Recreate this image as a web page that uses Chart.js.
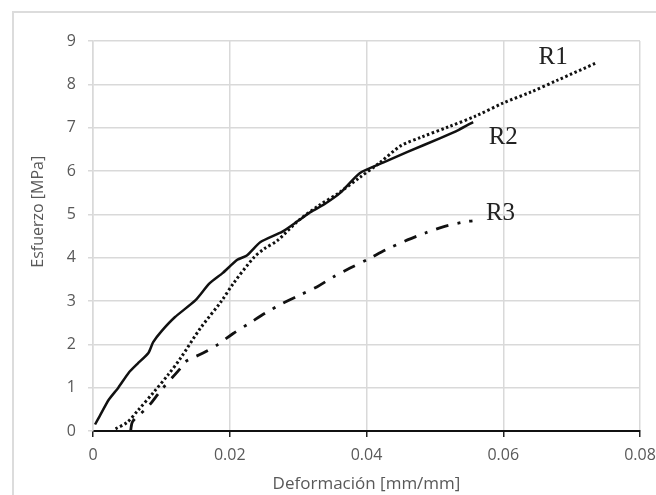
<!DOCTYPE html>
<html>
<head>
<meta charset="utf-8">
<script src="https://cdn.jsdelivr.net/npm/chart.js@4.4.1/dist/chart.umd.min.js"></script>
<style>
  html, body { margin: 0; padding: 0; background: #fff; }
  #wrap { position: relative; width: 656px; height: 495px; overflow: hidden; }
  #frame { position: absolute; left: 12px; top: 11px; right: -10px; bottom: -10px;
           border-top: 2px solid #dcdcdc; border-left: 2px solid #dcdcdc; }
  #chart { position: absolute; left: 0; top: 0; }
</style>
</head>
<body>
<div id="wrap">
  <div id="frame"></div>
  <canvas id="chart" width="656" height="495"></canvas>
</div>
<script>
// R1 - punteada
const r1X = [0.0033, 0.005, 0.0066, 0.0089, 0.011, 0.0128, 0.0157, 0.0188, 0.0205, 0.0235, 0.025, 0.027,
  0.030, 0.033, 0.036, 0.039, 0.042, 0.045, 0.048, 0.052, 0.056, 0.060, 0.064, 0.068, 0.0737];
const r1Y = [0.05, 0.2, 0.48, 0.9, 1.3, 1.68, 2.37, 3.0, 3.4, 4.0, 4.2, 4.4,
  4.85, 5.2, 5.5, 5.85, 6.2, 6.58, 6.78, 7.02, 7.27, 7.57, 7.82, 8.1, 8.5];

// R2 - continua
const r2X = [0.0003, 0.001, 0.0023, 0.0037, 0.0052, 0.0065, 0.0081, 0.0088, 0.010, 0.012, 0.015, 0.017,
  0.019, 0.0211, 0.0225, 0.0245, 0.0277, 0.030, 0.0318, 0.034, 0.0362, 0.039, 0.0425, 0.046,
  0.0508, 0.0535, 0.0556];
const r2Y = [0.15, 0.35, 0.72, 1.0, 1.34, 1.55, 1.8, 2.05, 2.3, 2.63, 3.02, 3.4,
  3.65, 3.95, 4.05, 4.36, 4.6, 4.85, 5.05, 5.25, 5.5, 5.95, 6.2, 6.44,
  6.76, 6.95, 7.13];

// R3 - raya y punto
const r3X = [0.0055, 0.0058, 0.008, 0.010, 0.0128, 0.0135, 0.0161, 0.0183, 0.0205, 0.023, 0.0252, 0.0278,
  0.0303, 0.0328, 0.0352, 0.0376, 0.0403, 0.0428, 0.046, 0.0486, 0.0512, 0.0541, 0.0555];
const r3Y = [0.0, 0.22, 0.55, 0.95, 1.45, 1.6, 1.8, 2.0, 2.25, 2.5, 2.72, 2.95,
  3.14, 3.33, 3.56, 3.76, 3.97, 4.18, 4.41, 4.57, 4.71, 4.82, 4.85];

// etiquetas de las curvas
const curveLabels = ["R1", "R2", "R3"];
const curveLabelX = [0.0673, 0.0600, 0.0596];
const curveLabelY = [8.63, 6.78, 5.03];

const xTicks = [0, 0.02, 0.04, 0.06, 0.08];
const yTicks = [0, 1, 2, 3, 4, 5, 6, 7, 8, 9];

const toPoints = (xs, ys) => xs.map((x, i) => ({ x: x, y: ys[i] }));

const gridGray = "#d9d9d9";
const textGray = "#595959";

const labelsPlugin = {
  id: "curveLabels",
  afterDraw(chart) {
    const { ctx, chartArea, scales } = chart;
    ctx.save();
    ctx.fillStyle = "#222";
    ctx.font = "25px 'Liberation Serif'";
    ctx.textAlign = "center";
    ctx.textBaseline = "middle";
    curveLabels.forEach((t, i) => {
      ctx.fillText(t, scales.x.getPixelForValue(curveLabelX[i]), scales.y.getPixelForValue(curveLabelY[i]));
    });
    // titulo del eje Y
    ctx.fillStyle = textGray;
    ctx.font = "16px 'Open Sans'";
    ctx.translate(38, chartArea.top + (chartArea.bottom - chartArea.top) * 0.438);
    ctx.rotate(-Math.PI / 2);
    ctx.fillText("Esfuerzo [MPa]", 0, 0);
    ctx.restore();
  },
};

new Chart(document.getElementById("chart").getContext("2d"), {
  type: "scatter",
  data: {
    datasets: [
      {
        label: "R1",
        data: toPoints(r1X, r1Y),
        showLine: true,
        borderColor: "#111",
        borderWidth: 3,
        borderDash: [2.5, 2.5],
        pointRadius: 0,
        tension: 0.3,
      },
      {
        label: "R2",
        data: toPoints(r2X, r2Y),
        showLine: true,
        borderColor: "#111",
        borderWidth: 2.5,
        pointRadius: 0,
        tension: 0.2,
      },
      {
        label: "R3",
        data: toPoints(r3X, r3Y),
        showLine: true,
        borderColor: "#111",
        borderWidth: 2.8,
        borderDash: [13, 9, 3, 9],
        pointRadius: 0,
        tension: 0.3,
      },
    ],
  },
  options: {
    responsive: false,
    animation: false,
    layout: { padding: { left: 0, top: 41, right: 16, bottom: 0 } },
    plugins: { legend: { display: false }, tooltip: { enabled: false } },
    scales: {
      x: {
        type: "linear",
        min: 0,
        max: 0.08,
        afterBuildTicks: (scale) => { scale.ticks = xTicks.map((v) => ({ value: v })); },
        afterFit: (scale) => { scale.height = 64; scale.paddingRight = 0; scale.paddingLeft = 0; },
        ticks: {
          color: textGray,
          font: { family: "Open Sans", size: 16 },
          padding: 9,
          callback: (value) => (value === 0 ? "0" : value.toFixed(2)),
        },
        grid: { color: gridGray, lineWidth: 1.5, tickColor: "#222", tickLength: 6 },
        border: { color: "#111", width: 2 },
        title: {
          display: true,
          text: "Deformación [mm/mm]",
          color: textGray,
          font: { family: "Open Sans", size: 17 },
          padding: { top: 0, bottom: 1 },
        },
      },
      y: {
        type: "linear",
        min: 0,
        max: 9,
        afterBuildTicks: (scale) => { scale.ticks = yTicks.map((v) => ({ value: v })); },
        afterFit: (scale) => { scale.width = 93; scale.paddingTop = 0; scale.paddingBottom = 0; },
        ticks: {
          color: textGray,
          font: { family: "Open Sans", size: 16 },
          padding: 12,
        },
        grid: { color: gridGray, lineWidth: 1.5, tickColor: gridGray, tickLength: 5 },
        border: { color: gridGray, width: 1.5 },
      },
    },
  },
  plugins: [labelsPlugin],
});
</script>
</body>
</html>
